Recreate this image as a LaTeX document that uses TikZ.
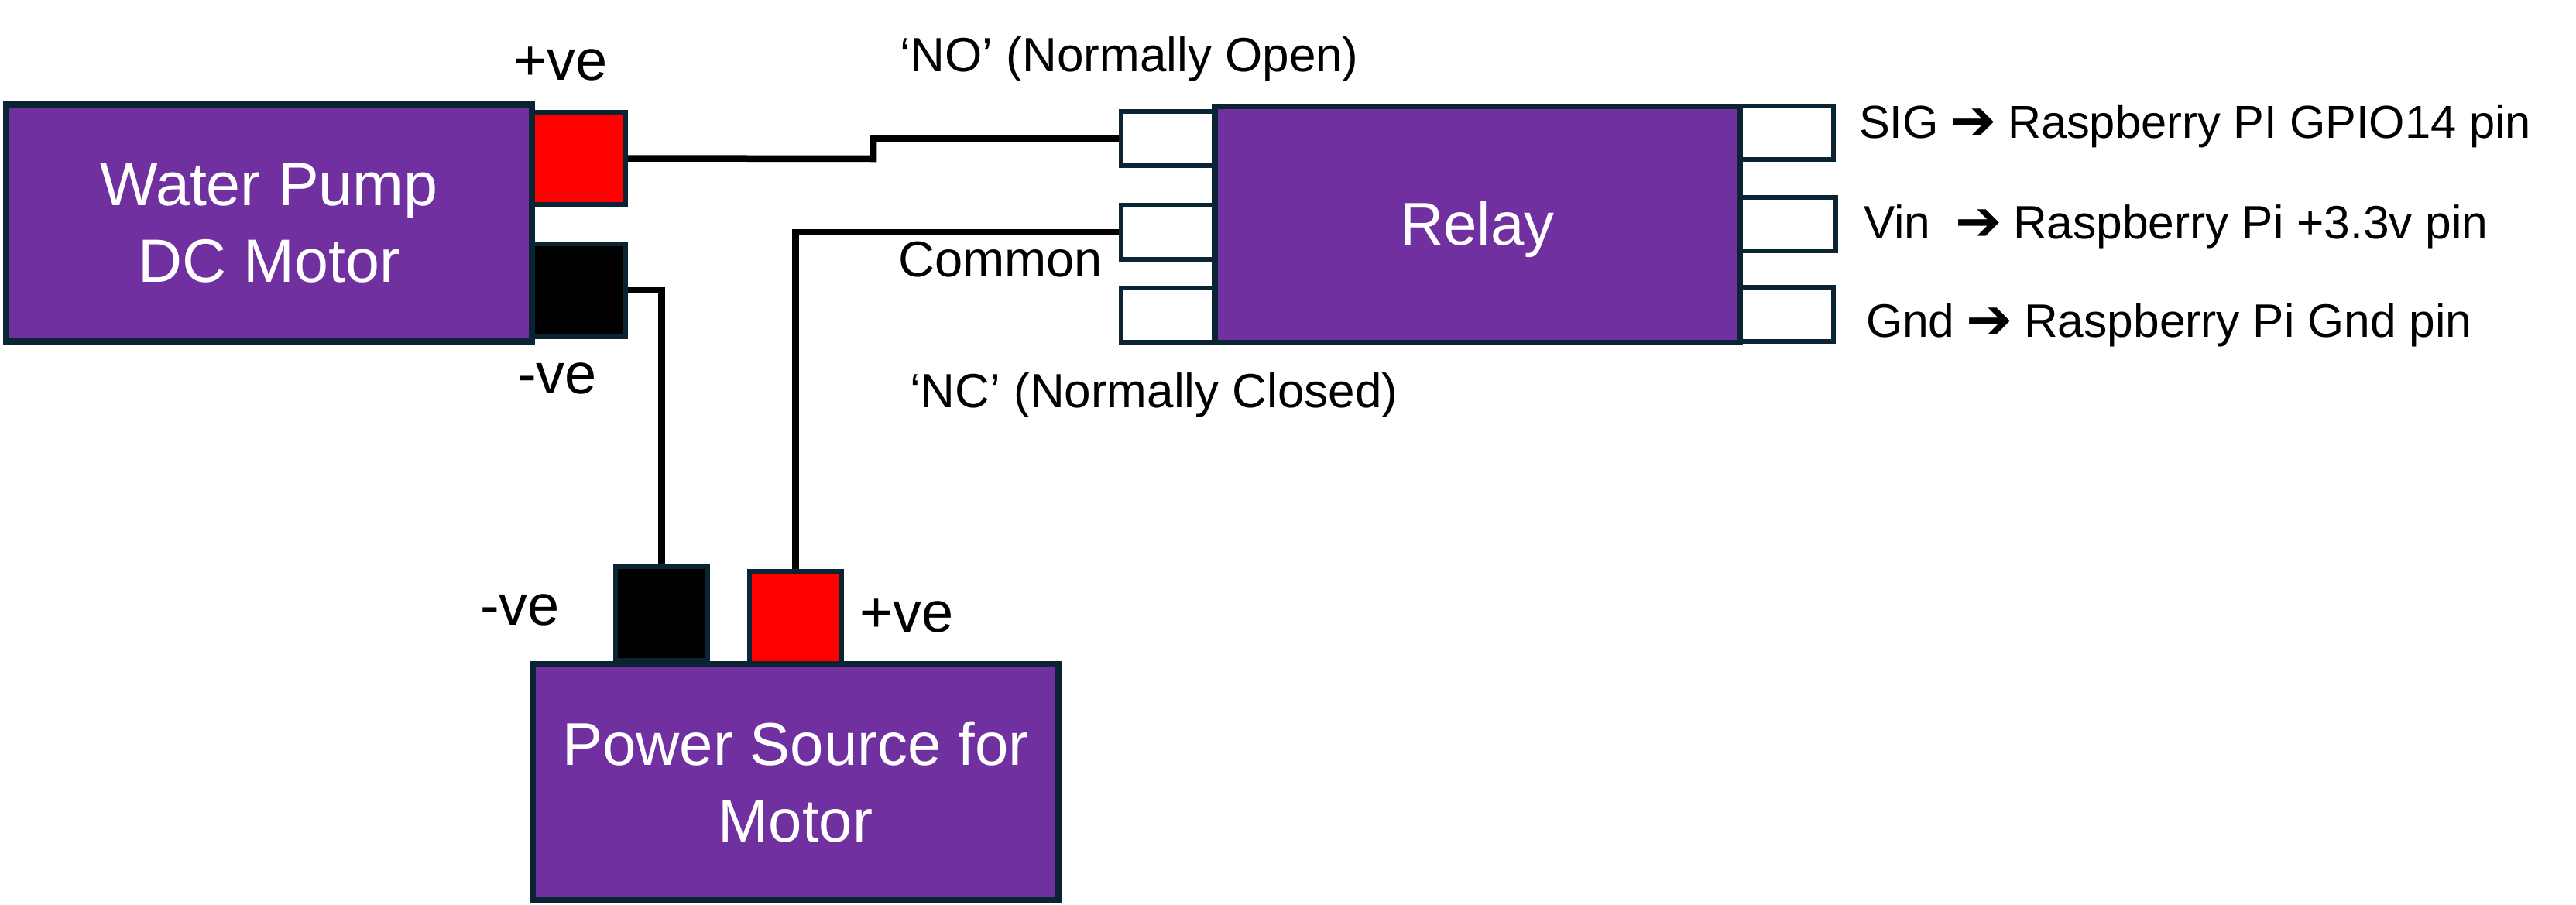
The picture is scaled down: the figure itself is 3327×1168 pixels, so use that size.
\documentclass[tikz,border=0pt]{standalone}
\usepackage{fontspec}
\setmainfont{Liberation Sans}
\newfontfamily\arrowfont{DejaVu Sans}
\definecolor{boxpurple}{HTML}{7030A0}
\definecolor{edgedark}{HTML}{0A2433}
\newcommand{\rightarr}{\makebox[56pt][c]{\arrowfont\fontsize{72}{70}\selectfont\raisebox{-2pt}{➔}}}
\tikzset{
  x=1pt,y=-1pt,
  mainbox/.style={draw=edgedark,fill=boxpurple,line width=7.5pt,inner sep=0pt,text=white,align=center,font=\fontsize{79}{99}\selectfont},
  powerbox/.style={mainbox,font=\fontsize{78}{99}\selectfont},
  pinbox/.style={draw=edgedark,line width=6.5pt,inner sep=0pt},
  redpin/.style={pinbox,fill=red},
  blackpin/.style={pinbox,fill=black},
  openpin/.style={pinbox,fill=white,line width=6pt},
  wire/.style={draw=black,line width=8.5pt,line join=miter},
  lab/.style={anchor=base west,inner sep=0pt,text=black,font=\fontsize{62}{70}\selectfont},
  commonlab/.style={lab,font=\fontsize{65}{70}\selectfont},
  pilab/.style={lab,font=\fontsize{60.5}{70}\selectfont},
  siglab/.style={lab,font=\fontsize{59.6}{70}\selectfont},
  pollab/.style={anchor=base west,inner sep=0pt,text=black,font=\fontsize{74}{88}\selectfont},
}
\begin{document}
\begin{tikzpicture}
\useasboundingbox (0,0) rectangle (3327,1168);
% pins behind the boxes
\node[redpin,minimum width=125pt,minimum height=119pt] (mred) at (745,204.5) {};
\node[blackpin,minimum width=125pt,minimum height=120pt] (mblack) at (745,375) {};
\node[blackpin,minimum width=119pt,minimum height=121pt] (pblack) at (854.5,792.5) {};
\node[redpin,minimum width=119pt,minimum height=121pt] (pred) at (1027.5,798.5) {};
\node[openpin,minimum width=130pt,minimum height=70pt] (pno) at (1513,179) {};
\node[openpin,minimum width=130pt,minimum height=70pt] (pcom) at (1513,300) {};
\node[openpin,minimum width=130pt,minimum height=70pt] (pnc) at (1513,407) {};
\node[openpin,minimum width=128pt,minimum height=69pt] (psig) at (2303.5,171.5) {};
\node[openpin,minimum width=128pt,minimum height=69.5pt] (pvin) at (2307,289.25) {};
\node[openpin,minimum width=128pt,minimum height=70pt] (pgnd) at (2303.5,406) {};
% main boxes
\node[mainbox,minimum width=679pt,minimum height=306pt] (motor) at (347.5,288) {Water Pump\\DC Motor};
\node[powerbox,minimum width=678pt,minimum height=305pt,text height=52pt,text depth=0pt] (relay) at (1908,290) {Relay};
\node[powerbox,minimum width=679pt,minimum height=305pt] (power) at (1027.5,1010.5) {Power Source for\\Motor};
% wires
\coordinate (noa) at (1128,205);
\coordinate (nob) at (1128,179);
\draw[wire] (mred.east) -- (noa) -- (nob) -- (pno.west);
\draw[wire] (mblack.east) -| (pblack.north);
\draw[wire] (pred.north) |- (pcom.west);
% labels
\node[pollab] (t1) at (663,103) {+ve};
\node[pollab] (t2) at (668,508) {-ve};
\node[pollab] (t3) at (620,807) {-ve};
\node[pollab] (t4) at (1110,816) {+ve};
\node[lab] (t5) at (1162,92) {‘NO’ (Normally Open)};
\node[commonlab] (t6) at (1160,357) {Common};
\node[lab] (t7) at (1175,526) {‘NC’ (Normally Closed)};
\node[siglab] (t8) at (2401,178) {SIG \rightarr{} Raspberry PI GPIO14 pin};
\node[pilab] (t9) at (2407,308) {Vin \ \rightarr{} Raspberry Pi +3.3v pin};
\node[pilab] (t10) at (2410,435) {Gnd \rightarr{} Raspberry Pi Gnd pin};
\end{tikzpicture}
\end{document}
